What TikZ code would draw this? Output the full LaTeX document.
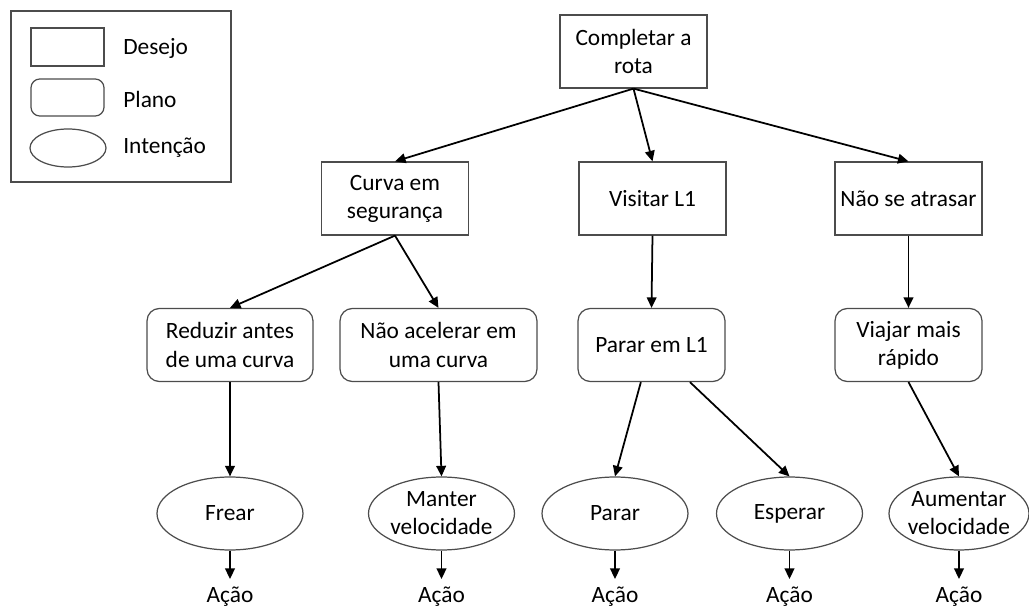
\documentclass[tikz,border=0pt]{standalone}
\usepackage{fontspec}
\setmainfont{Carlito}
\usetikzlibrary{shapes.geometric,arrows.meta}
\begin{document}
\begin{tikzpicture}[x=0.02cm,y=-0.02cm,
  font=\fontsize{13.3}{16}\selectfont,
  >={Triangle[length=6pt,width=5.5pt]},
  desejo/.style={draw=black!70,line width=0.7pt,rectangle,minimum width=2.94cm,minimum height=1.46cm,align=center,inner sep=0pt},
  plano/.style={desejo,rounded corners=7pt},
  intencao/.style={draw=black!70,line width=0.7pt,ellipse,minimum width=2.92cm,minimum height=1.46cm,align=center,inner sep=0pt},
  acao/.style={inner sep=4pt,anchor=base},
  seta/.style={->,line width=1pt}]
\useasboundingbox (0,0) rectangle (1029,608);
\draw[black!70,line width=0.7pt] (11,11) rectangle (231,182);
\node[desejo,minimum width=1.46cm,minimum height=0.76cm] (legdesejo) at (67.5,47) {};
\node[plano,rounded corners=5pt,minimum width=1.46cm,minimum height=0.74cm] (legplano) at (67.5,97.5) {};
\node[intencao,minimum width=1.52cm,minimum height=0.76cm] (legintencao) at (68,148) {};
\node[anchor=west,inner sep=0pt] (txtdesejo) at (123,48) {Desejo};
\node[anchor=west,inner sep=0pt] (txtplano) at (123,99) {Plano};
\node[anchor=west,inner sep=0pt] (txtintencao) at (123,148) {Intenção};
\node[desejo] (completar) at (633.5,51.5) {Completar a\\rota};
\node[desejo] (curva) at (395,198.5) {Curva em\\segurança};
\node[desejo] (visitar) at (652.5,198.5) {Visitar L1};
\node[desejo] (atrasar) at (908.5,198.5) {Não se atrasar};
\node[plano,minimum width=3.32cm] (reduzir) at (230,345) {Reduzir antes\\de uma curva};
\node[plano,minimum width=3.94cm] (naoacelerar) at (438.5,345) {Não acelerar em\\uma curva};
\node[plano] (pararL1) at (651.5,345) {Parar em L1};
\node[plano] (viajar) at (908.5,345) {Viajar mais\\rápido};
\node[intencao] (frear) at (230,513.5) {Frear};
\node[intencao] (manter) at (441.5,513.5) {Manter\\velocidade};
\node[intencao] (parar) at (615,513.5) {Parar};
\node[intencao] (esperar) at (789.5,513.5) {Esperar};
\node[intencao,minimum width=2.8cm,inner xsep=-4pt] (aumentar) at (959,513.5) {Aumentar\\velocidade};
\node[acao] (acao1) at (230,602) {Ação};
\node[acao] (acao2) at (441.5,602) {Ação};
\node[acao] (acao3) at (615,602) {Ação};
\node[acao] (acao4) at (789.5,602) {Ação};
\node[acao] (acao5) at (959,602) {Ação};
\draw[seta] (completar.south) -- (curva.north);
\draw[seta] (completar.south) -- (visitar.north);
\draw[seta] (completar.south) -- (atrasar.north);
\draw[seta] (curva.south) -- (reduzir.north);
\draw[seta] (curva.south) -- (naoacelerar.north);
\draw[seta] (visitar.south) -- (pararL1.north);
\draw[seta] (atrasar.south) -- (viajar.north);
\draw[seta] (reduzir.south) -- (frear.north);
\draw[seta] (naoacelerar.south) -- (manter.north);
\draw[seta] (pararL1.-106) -- (parar.north);
\draw[seta] (pararL1.-44) -- (esperar.north);
\draw[seta] (viajar.south) -- (aumentar.north);
\draw[seta] (frear.south) -- (acao1.north);
\draw[seta] (manter.south) -- (acao2.north);
\draw[seta] (parar.south) -- (acao3.north);
\draw[seta] (esperar.south) -- (acao4.north);
\draw[seta] (aumentar.south) -- (acao5.north);
\end{tikzpicture}
\end{document}
